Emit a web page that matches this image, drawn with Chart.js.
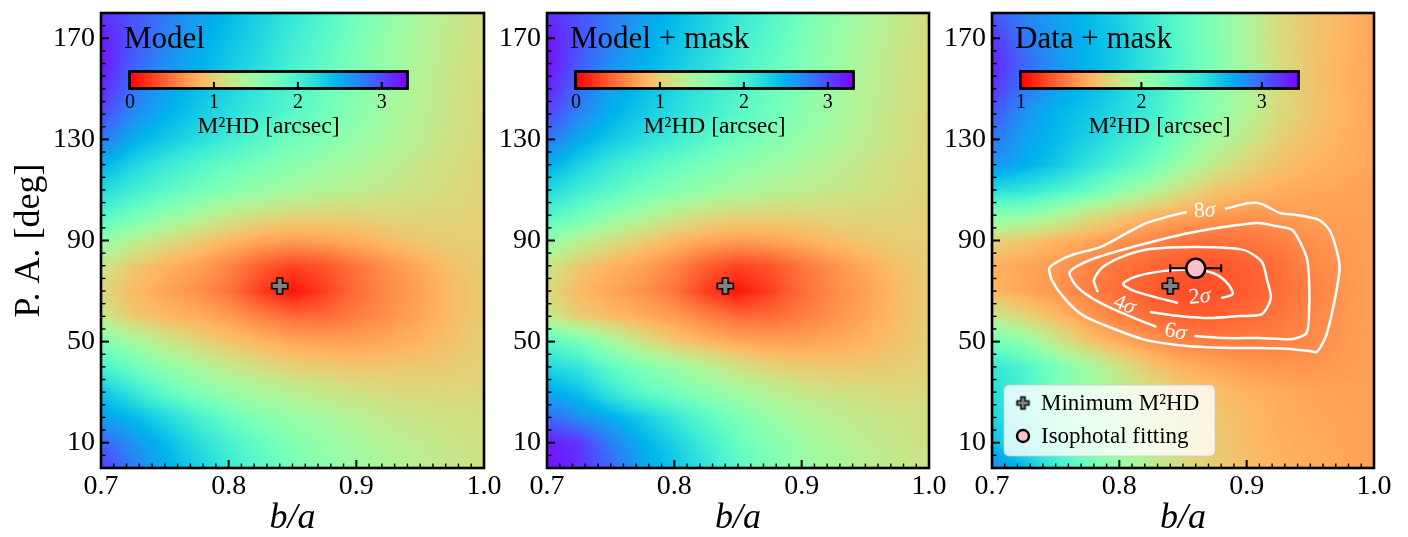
<!DOCTYPE html>
<html>
<head>
<meta charset="utf-8">
<script src="https://cdn.jsdelivr.net/npm/chart.js@4.4.1/dist/chart.umd.min.js"></script>
<style>
  html, body { margin: 0; padding: 0; background: #fff; }
  #wrap { position: relative; width: 1408px; height: 537px; }
  #wrap canvas { position: absolute; left: 0; top: 0; }
</style>
</head>
<body>
<div id="wrap">
  <canvas id="panel1" width="1408" height="537"></canvas>
  <canvas id="panel2" width="1408" height="537"></canvas>
  <canvas id="panel3" width="1408" height="537"></canvas>
</div>
<script>
// grid nodes of the M2HD maps (rows run from PA = 180 at the top down to PA = 0)
const gridB = [0.700, 0.725, 0.750, 0.775, 0.800, 0.825, 0.850, 0.875, 0.900, 0.925, 0.950, 0.975, 1.000];
const gridPA = [180, 170, 160, 150, 140, 130, 120, 110, 100, 90, 80, 70, 60, 50, 40, 30, 20, 10, 0];

const xTickValues = [0.7, 0.8, 0.9, 1.0];
const yTickValues = [10, 50, 90, 130, 170];

const panelTitles = ['Model', 'Model + mask', 'Data + mask'];
const cbarRanges = [[0, 3.3], [0, 3.3], [1, 3.3]];
const cbarTicks = [[0, 1, 2, 3], [0, 1, 2, 3], [1, 2, 3]];

// M2HD [arcsec], model
const m2hdModel = [
  [3.10, 2.95, 2.78, 2.60, 2.45, 2.30, 2.12, 1.95, 1.75, 1.56, 1.38, 1.22, 1.10],
  [3.20, 2.95, 2.75, 2.56, 2.40, 2.25, 2.06, 1.90, 1.70, 1.51, 1.35, 1.20, 1.09],
  [3.22, 2.90, 2.68, 2.50, 2.35, 2.20, 2.01, 1.85, 1.66, 1.48, 1.32, 1.18, 1.08],
  [3.15, 2.82, 2.58, 2.42, 2.27, 2.12, 1.96, 1.80, 1.61, 1.45, 1.30, 1.17, 1.07],
  [3.00, 2.70, 2.50, 2.35, 2.20, 2.05, 1.90, 1.75, 1.58, 1.42, 1.28, 1.15, 1.06],
  [2.78, 2.52, 2.36, 2.21, 2.06, 1.91, 1.76, 1.63, 1.50, 1.38, 1.25, 1.14, 1.05],
  [2.50, 2.28, 2.10, 1.95, 1.82, 1.70, 1.58, 1.48, 1.38, 1.28, 1.18, 1.10, 1.03],
  [2.25, 2.05, 1.90, 1.75, 1.62, 1.50, 1.40, 1.32, 1.26, 1.20, 1.14, 1.08, 1.02],
  [1.95, 1.75, 1.55, 1.38, 1.22, 1.10, 1.04, 1.02, 1.02, 1.04, 1.04, 1.03, 1.00],
  [1.55, 1.30, 1.12, 0.98, 0.85, 0.75, 0.70, 0.73, 0.80, 0.88, 0.95, 0.99, 1.00],
  [1.20, 0.95, 0.82, 0.72, 0.58, 0.40, 0.28, 0.35, 0.50, 0.64, 0.77, 0.90, 0.98],
  [1.05, 0.86, 0.74, 0.64, 0.50, 0.25, 0.08, 0.26, 0.46, 0.60, 0.72, 0.86, 0.97],
  [1.20, 0.96, 0.85, 0.78, 0.69, 0.56, 0.45, 0.45, 0.54, 0.64, 0.75, 0.87, 0.98],
  [1.65, 1.42, 1.20, 1.04, 0.92, 0.83, 0.76, 0.72, 0.72, 0.76, 0.82, 0.91, 1.00],
  [2.00, 1.78, 1.55, 1.38, 1.22, 1.10, 1.00, 0.96, 0.93, 0.93, 0.95, 0.98, 1.02],
  [2.38, 2.12, 1.85, 1.65, 1.50, 1.38, 1.28, 1.20, 1.13, 1.08, 1.06, 1.05, 1.05],
  [2.60, 2.45, 2.25, 2.02, 1.80, 1.62, 1.50, 1.40, 1.30, 1.22, 1.16, 1.13, 1.10],
  [2.90, 2.65, 2.45, 2.22, 2.00, 1.80, 1.62, 1.50, 1.40, 1.30, 1.23, 1.17, 1.13],
  [3.05, 2.78, 2.52, 2.32, 2.10, 1.90, 1.72, 1.58, 1.46, 1.36, 1.28, 1.20, 1.15]
];

// M2HD [arcsec], model + mask
const m2hdModelMask = [
  [3.12, 2.96, 2.78, 2.60, 2.45, 2.30, 2.12, 1.95, 1.75, 1.56, 1.38, 1.22, 1.10],
  [3.22, 2.96, 2.75, 2.56, 2.40, 2.25, 2.06, 1.90, 1.70, 1.51, 1.35, 1.20, 1.09],
  [3.24, 2.92, 2.68, 2.50, 2.35, 2.20, 2.01, 1.85, 1.66, 1.48, 1.32, 1.18, 1.08],
  [3.17, 2.84, 2.58, 2.42, 2.27, 2.12, 1.96, 1.80, 1.61, 1.45, 1.30, 1.17, 1.07],
  [3.02, 2.72, 2.50, 2.35, 2.20, 2.05, 1.90, 1.75, 1.58, 1.42, 1.28, 1.15, 1.06],
  [2.80, 2.54, 2.36, 2.21, 2.06, 1.91, 1.76, 1.63, 1.50, 1.38, 1.25, 1.14, 1.05],
  [2.52, 2.30, 2.10, 1.95, 1.82, 1.70, 1.58, 1.48, 1.38, 1.28, 1.18, 1.10, 1.03],
  [2.26, 2.06, 1.90, 1.75, 1.62, 1.50, 1.40, 1.32, 1.26, 1.20, 1.14, 1.08, 1.02],
  [1.96, 1.76, 1.55, 1.38, 1.22, 1.10, 1.04, 1.02, 1.02, 1.04, 1.04, 1.03, 1.00],
  [1.55, 1.30, 1.12, 0.98, 0.85, 0.75, 0.70, 0.73, 0.80, 0.88, 0.95, 0.99, 1.00],
  [1.20, 0.95, 0.82, 0.72, 0.58, 0.40, 0.28, 0.35, 0.50, 0.64, 0.77, 0.90, 0.98],
  [1.05, 0.86, 0.74, 0.64, 0.50, 0.25, 0.08, 0.26, 0.46, 0.60, 0.72, 0.86, 0.97],
  [1.22, 0.98, 0.86, 0.78, 0.69, 0.56, 0.45, 0.45, 0.54, 0.64, 0.75, 0.87, 0.98],
  [1.90, 1.72, 1.42, 1.14, 0.94, 0.83, 0.76, 0.72, 0.72, 0.76, 0.82, 0.91, 1.00],
  [2.25, 2.12, 1.85, 1.65, 1.48, 1.30, 1.13, 1.02, 0.96, 0.94, 0.95, 0.98, 1.02],
  [2.55, 2.40, 2.12, 1.87, 1.73, 1.58, 1.43, 1.30, 1.20, 1.13, 1.10, 1.07, 1.07],
  [2.85, 2.68, 2.52, 2.33, 2.10, 1.88, 1.68, 1.50, 1.36, 1.27, 1.20, 1.15, 1.12],
  [3.20, 3.08, 2.75, 2.50, 2.30, 2.05, 1.80, 1.62, 1.46, 1.34, 1.25, 1.18, 1.14],
  [3.25, 3.12, 2.88, 2.57, 2.37, 2.15, 1.88, 1.68, 1.52, 1.40, 1.30, 1.22, 1.16]
];

// M2HD [arcsec], data + mask
const m2hdData = [
  [3.05, 2.90, 2.80, 2.70, 2.60, 2.45, 2.30, 2.15, 1.95, 1.75, 1.65, 1.58, 1.52],
  [3.15, 2.95, 2.82, 2.72, 2.62, 2.48, 2.30, 2.15, 1.95, 1.76, 1.65, 1.58, 1.52],
  [3.20, 3.00, 2.85, 2.72, 2.63, 2.48, 2.32, 2.15, 1.96, 1.77, 1.65, 1.57, 1.52],
  [3.15, 2.95, 2.80, 2.70, 2.60, 2.46, 2.28, 2.10, 1.94, 1.76, 1.65, 1.57, 1.52],
  [3.05, 2.85, 2.72, 2.65, 2.55, 2.43, 2.25, 2.08, 1.93, 1.75, 1.65, 1.58, 1.52],
  [2.95, 2.80, 2.70, 2.60, 2.48, 2.35, 2.15, 1.98, 1.83, 1.70, 1.62, 1.56, 1.52],
  [2.85, 2.75, 2.65, 2.50, 2.37, 2.22, 2.02, 1.85, 1.72, 1.63, 1.58, 1.55, 1.52],
  [2.55, 2.50, 2.40, 2.28, 2.10, 1.95, 1.78, 1.65, 1.60, 1.55, 1.53, 1.52, 1.50],
  [2.12, 2.08, 1.95, 1.80, 1.68, 1.58, 1.52, 1.48, 1.46, 1.48, 1.50, 1.50, 1.50],
  [1.72, 1.66, 1.58, 1.52, 1.46, 1.40, 1.35, 1.33, 1.35, 1.38, 1.44, 1.48, 1.50],
  [1.56, 1.52, 1.48, 1.40, 1.35, 1.30, 1.27, 1.25, 1.28, 1.33, 1.40, 1.46, 1.50],
  [1.58, 1.52, 1.46, 1.38, 1.32, 1.27, 1.22, 1.24, 1.27, 1.32, 1.38, 1.45, 1.50],
  [1.85, 1.72, 1.60, 1.48, 1.38, 1.32, 1.28, 1.28, 1.32, 1.35, 1.40, 1.46, 1.50],
  [2.22, 2.08, 1.85, 1.65, 1.54, 1.46, 1.40, 1.37, 1.37, 1.38, 1.42, 1.47, 1.50],
  [2.48, 2.37, 2.18, 2.00, 1.80, 1.65, 1.56, 1.52, 1.48, 1.46, 1.46, 1.48, 1.50],
  [2.55, 2.40, 2.18, 2.05, 1.92, 1.78, 1.68, 1.62, 1.57, 1.54, 1.52, 1.51, 1.50],
  [2.58, 2.45, 2.25, 2.08, 1.97, 1.83, 1.73, 1.66, 1.60, 1.55, 1.53, 1.52, 1.50],
  [2.68, 2.52, 2.32, 2.13, 2.00, 1.85, 1.75, 1.67, 1.61, 1.56, 1.54, 1.52, 1.50],
  [2.90, 2.72, 2.45, 2.25, 2.05, 1.88, 1.76, 1.68, 1.62, 1.57, 1.55, 1.53, 1.50]
];

// best (minimum M2HD) point and isophotal fit
const minB = [0.84];
const minPA = [72];
const isoB = [0.86];
const isoPA = [79];
const isoErrB = [0.02];

// significance contours of the data map, [b/a, PA]
const contour2s = [[0.880,67.2],[0.889,68.8],[0.886,72.4],[0.877,76.3],[0.863,78.3],[0.843,78.3],[0.824,77.1],[0.810,75.2],[0.803,72.8],[0.810,70.4],[0.828,67.6],[0.846,65.3]];
const contour4s = [[0.824,61.7],[0.847,60.1],[0.871,59.3],[0.894,60.1],[0.912,60.9],[0.919,67.2],[0.916,74.4],[0.912,81.5],[0.898,86.2],[0.863,87.4],[0.824,86.6],[0.804,83.9],[0.787,79.5],[0.780,74.4],[0.783,69.6]];
const contour6s = [[0.859,52.2],[0.884,51.4],[0.910,51.4],[0.936,51.0],[0.947,53.4],[0.949,61.3],[0.949,74.4],[0.947,83.5],[0.936,94.1],[0.923,95.7],[0.908,96.9],[0.855,93.0],[0.816,88.2],[0.777,82.3],[0.761,77.5],[0.767,71.6],[0.785,65.3],[0.806,60.5],[0.829,55.8]];
const contour8s = [[0.883,102.5],[0.902,104.8],[0.912,104.4],[0.926,100.9],[0.939,100.1],[0.957,98.1],[0.965,94.1],[0.970,87.4],[0.973,79.5],[0.971,71.6],[0.967,61.3],[0.962,51.8],[0.955,45.9],[0.949,46.3],[0.928,47.3],[0.894,47.5],[0.865,47.9],[0.845,48.7],[0.821,50.6],[0.798,54.6],[0.771,60.5],[0.756,67.6],[0.747,74.4],[0.745,79.1],[0.751,81.5],[0.763,84.3],[0.785,87.4],[0.806,93.0],[0.821,96.9],[0.837,99.3],[0.853,101.3]];
const contourLabels = ['2', '4', '6', '8'];
const contourLabelB = [0.863, 0.804, 0.844, 0.867];
const contourLabelPA = [67.6, 64.5, 53.8, 101.7];
const contourLabelAngle = [-5, 22, 12, -4];

const SERIF = '"Liberation Serif", "DejaVu Serif", serif';

function rainbowR(v, vmin, vmax) {
  let t = 1 - (v - vmin) / (vmax - vmin);
  t = Math.max(0, Math.min(1, t));
  const r = Math.min(1, Math.abs(2 * t - 0.5));
  const g = Math.sin(Math.PI * t);
  const b = Math.cos(Math.PI * t / 2);
  return [Math.round(r * 255), Math.round(g * 255), Math.round(b * 255)];
}

function sampleGrid(grid, b, pa) {
  let fx = (b - gridB[0]) / (gridB[1] - gridB[0]);
  let fy = (gridPA[0] - pa) / (gridPA[0] - gridPA[1]);
  fx = Math.max(0, Math.min(gridB.length - 1, fx));
  fy = Math.max(0, Math.min(gridPA.length - 1, fy));
  const i0 = Math.min(Math.floor(fx), gridB.length - 2), j0 = Math.min(Math.floor(fy), gridPA.length - 2);
  const tx = fx - i0, ty = fy - j0;
  const top = grid[j0][i0] * (1 - tx) + grid[j0][i0 + 1] * tx;
  const bot = grid[j0 + 1][i0] * (1 - tx) + grid[j0 + 1][i0 + 1] * tx;
  return top * (1 - ty) + bot * ty;
}

function makePlus(half, arm, lw) {
  const size = Math.ceil(2 * half + 2 * lw + 2);
  const c = document.createElement('canvas');
  c.width = size; c.height = size;
  const g = c.getContext('2d');
  const m = size / 2;
  g.beginPath();
  g.moveTo(m - arm, m - half); g.lineTo(m + arm, m - half); g.lineTo(m + arm, m - arm);
  g.lineTo(m + half, m - arm); g.lineTo(m + half, m + arm); g.lineTo(m + arm, m + arm);
  g.lineTo(m + arm, m + half); g.lineTo(m - arm, m + half); g.lineTo(m - arm, m + arm);
  g.lineTo(m - half, m + arm); g.lineTo(m - half, m - arm); g.lineTo(m - arm, m - arm);
  g.closePath();
  g.fillStyle = '#808080'; g.fill();
  g.lineWidth = lw; g.lineJoin = 'miter'; g.strokeStyle = '#000'; g.stroke();
  return c;
}
const plusMarker = makePlus(8, 2.8, 1.6);
const plusLegend = makePlus(6, 2.1, 1.4);

function panelPlugin(idx, grid) {
  return {
    id: 'panel' + idx,
    beforeDatasetsDraw(chart) {
      const { ctx, chartArea: a, scales: { x, y } } = chart;
      const w = Math.round(a.right - a.left), h = Math.round(a.bottom - a.top);
      const img = ctx.createImageData(w, h);
      const [vmin, vmax] = cbarRanges[idx];
      for (let py = 0; py < h; py++) {
        const pa = y.getValueForPixel(a.top + py + 0.5);
        for (let px = 0; px < w; px++) {
          const b = x.getValueForPixel(a.left + px + 0.5);
          const col = rainbowR(sampleGrid(grid, b, pa), vmin, vmax);
          const k = (py * w + px) * 4;
          img.data[k] = col[0]; img.data[k + 1] = col[1]; img.data[k + 2] = col[2]; img.data[k + 3] = 255;
        }
      }
      ctx.putImageData(img, Math.round(a.left), Math.round(a.top));
    },
    afterDatasetsDraw(chart) {
      const { ctx, chartArea: a, scales: { x, y } } = chart;
      ctx.save();
      // inward ticks on the bottom and left spines
      ctx.strokeStyle = '#000';
      for (let i = 71; i < 100; i++) {
        const v = i / 100;
        const major = xTickValues.some(t => Math.abs(t - v) < 1e-6);
        const px = x.getPixelForValue(v);
        ctx.lineWidth = major ? 2 : 1.4;
        ctx.beginPath(); ctx.moveTo(px, a.bottom); ctx.lineTo(px, a.bottom - (major ? 8 : 4.5)); ctx.stroke();
      }
      for (let v = 5; v < 180; v += 5) {
        const major = yTickValues.includes(v);
        const py = y.getPixelForValue(v);
        ctx.lineWidth = major ? 2 : 1.4;
        ctx.beginPath(); ctx.moveTo(a.left, py); ctx.lineTo(a.left + (major ? 8 : 4.5), py); ctx.stroke();
      }
      // frame
      ctx.lineWidth = 2.6;
      ctx.strokeRect(a.left, a.top, a.right - a.left, a.bottom - a.top);

      // panel title
      ctx.fillStyle = '#000';
      ctx.font = '31px ' + SERIF;
      ctx.textAlign = 'left'; ctx.textBaseline = 'alphabetic';
      ctx.fillText(panelTitles[idx], a.left + 23, 48);

      // inset colour bar
      const [vmin, vmax] = cbarRanges[idx];
      const x0 = a.left + 29, x1 = a.left + 306, y0 = 72, y1 = 88;
      for (let px = x0; px < x1; px++) {
        const v = vmin + (px + 0.5 - x0) / (x1 - x0) * (vmax - vmin);
        const c = rainbowR(v, vmin, vmax);
        ctx.fillStyle = 'rgb(' + c.join(',') + ')';
        ctx.fillRect(px, y0, 1, y1 - y0);
      }
      ctx.lineWidth = 2;
      ctx.strokeStyle = '#000';
      ctx.fillStyle = '#000';
      ctx.font = '20px ' + SERIF;
      ctx.textAlign = 'center';
      cbarTicks[idx].forEach(t => {
        const px = x0 + (t - vmin) / (vmax - vmin) * (x1 - x0);
        ctx.beginPath(); ctx.moveTo(px, y1); ctx.lineTo(px, y1 - 6); ctx.stroke();
        ctx.fillText(String(t), px, 108);
      });
      ctx.lineWidth = 2.8;
      ctx.strokeRect(x0 - 0.5, y0 - 0.5, x1 - x0 + 1, y1 - y0 + 1);
      ctx.font = '23.5px ' + SERIF;
      ctx.fillText('M\u00B2HD [arcsec]', (x0 + x1) / 2, 133);

      if (idx === 2) {
        // contour labels
        ctx.fillStyle = '#fff';
        contourLabels.forEach((lab, i) => {
          const px = x.getPixelForValue(contourLabelB[i]);
          const py = y.getPixelForValue(contourLabelPA[i]);
          ctx.save();
          ctx.translate(px, py);
          ctx.rotate(contourLabelAngle[i] * Math.PI / 180);
          ctx.textBaseline = 'middle';
          ctx.font = '22px ' + SERIF;
          const w1 = ctx.measureText(lab).width;
          ctx.font = 'italic 22px ' + SERIF;
          const w2 = ctx.measureText('\u03C3').width;
          ctx.textAlign = 'left';
          ctx.font = '22px ' + SERIF;
          ctx.fillText(lab, -(w1 + w2) / 2, 0);
          ctx.font = 'italic 22px ' + SERIF;
          ctx.fillText('\u03C3', -(w1 + w2) / 2 + w1, 0);
          ctx.restore();
        });

        // legend
        const lx = a.left + 12, ly = 385, lw = 211, lh = 71;
        ctx.beginPath();
        ctx.roundRect(lx, ly, lw, lh, 5);
        ctx.fillStyle = 'rgba(255,255,255,0.8)';
        ctx.fill();
        ctx.lineWidth = 1;
        ctx.strokeStyle = 'rgba(204,204,204,0.8)';
        ctx.stroke();
        ctx.drawImage(plusLegend, lx + 19 - plusLegend.width / 2, 403 - plusLegend.height / 2);
        ctx.beginPath();
        ctx.arc(lx + 19, 436, 6, 0, Math.PI * 2);
        ctx.fillStyle = '#ffc0cb'; ctx.fill();
        ctx.lineWidth = 2.4; ctx.strokeStyle = '#000'; ctx.stroke();
        ctx.fillStyle = '#000';
        ctx.font = '23px ' + SERIF;
        ctx.textAlign = 'left'; ctx.textBaseline = 'middle';
        ctx.fillText('Minimum M\u00B2HD', lx + 37, 404);
        ctx.fillText('Isophotal fitting', lx + 37, 437);
      }
      ctx.restore();
    }
  };
}

const pts = arr => arr.map(p => ({ x: p[0], y: p[1] }));

function makePanel(canvasId, idx, grid, padLeft, padRight, yWidth) {
  const datasets = [
    {
      data: minB.map((b, i) => ({ x: b, y: minPA[i] })),
      pointStyle: plusMarker, pointRadius: 9, order: 0
    }
  ];
  if (idx === 2) {
    datasets.push({
      data: isoB.map((b, i) => ({ x: b, y: isoPA[i] })),
      pointStyle: 'circle', pointRadius: 9.5,
      pointBackgroundColor: '#ffc0cb', pointBorderColor: '#000', pointBorderWidth: 2.5, order: 0
    });
    datasets.push({
      data: [{ x: isoB[0] - isoErrB[0], y: isoPA[0] }, { x: isoB[0] + isoErrB[0], y: isoPA[0] }],
      showLine: true, borderColor: '#000', borderWidth: 2,
      pointStyle: 'line', pointRotation: 90, pointRadius: 4,
      pointBorderColor: '#000', pointBorderWidth: 2, order: 1
    });
    [contour2s, contour4s, contour6s, contour8s].forEach(c => {
      datasets.push({
        data: pts(c), showLine: true, borderColor: '#fff', borderWidth: 2.5,
        pointRadius: 0, tension: 0.25, order: 2
      });
    });
  }
  return new Chart(document.getElementById(canvasId), {
    type: 'scatter',
    data: { datasets },
    options: {
      responsive: false,
      animation: false,
      devicePixelRatio: 1,
      layout: { padding: { left: padLeft, right: padRight, top: 13, bottom: 0 } },
      plugins: { legend: { display: false }, tooltip: { enabled: false } },
      scales: {
        x: {
          type: 'linear', position: 'bottom', min: 0.7, max: 1.0,
          grid: { display: false, drawTicks: false }, border: { display: false },
          afterBuildTicks: s => { s.ticks = xTickValues.map(v => ({ value: v })); },
          afterFit: s => { s.height = 69; s.paddingLeft = 0; s.paddingRight = 0; },
          ticks: {
            autoSkip: false, maxRotation: 0, padding: 2, color: '#000',
            font: { family: SERIF, size: 28 },
            callback: v => Number(v).toFixed(1)
          },
          title: {
            display: true, text: 'b/a', color: '#000', padding: 0,
            font: { family: SERIF, size: 36, style: 'italic', lineHeight: 1 }
          }
        },
        y: {
          type: 'linear', position: 'left', min: 0, max: 180,
          grid: { display: false, drawTicks: false }, border: { display: false },
          afterBuildTicks: s => { s.ticks = yTickValues.map(v => ({ value: v })); },
          afterFit: s => { s.width = yWidth; s.paddingTop = 0; s.paddingBottom = 0; },
          ticks: {
            autoSkip: false, padding: 6, color: '#000',
            font: { family: SERIF, size: 28 }
          },
          title: {
            display: idx === 0, text: 'P. A. [deg]', color: '#000', padding: { top: 12, bottom: 0 },
            font: { family: SERIF, size: 36, lineHeight: 1 }
          }
        }
      }
    },
    plugins: [panelPlugin(idx, grid)]
  });
}

makePanel('panel1', 0, m2hdModel, 0, 1408 - 484, 101);
makePanel('panel2', 1, m2hdModelMask, 547 - 60, 1408 - 929, 60);
makePanel('panel3', 2, m2hdData, 992 - 60, 1408 - 1374, 60);
</script>
</body>
</html>
